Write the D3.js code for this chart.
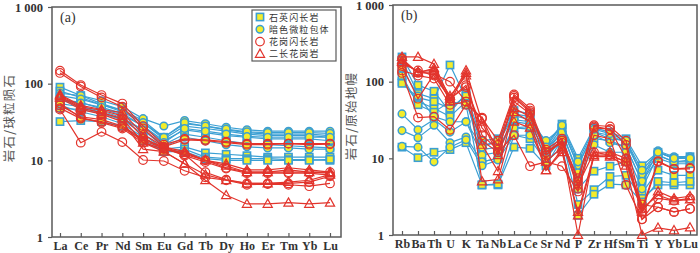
<!DOCTYPE html>
<html>
<head>
<meta charset="utf-8">
<script src="https://cdn.jsdelivr.net/npm/d3@7"></script>
<style>
  html, body { margin: 0; padding: 0; background: #fff; }
  svg { display: block; }
</style>
</head>
<body>
<svg id="chart" width="700" height="253"></svg>
<script>
// ---------- data ----------
const reeElements = ["La","Ce","Pr","Nd","Sm","Eu","Gd","Tb","Dy","Ho","Er","Tm","Yb","Lu"];
const spiderElements = ["Rb","Ba","Th","U","K","Ta","Nb","La","Ce","Sr","Nd","P","Zr","Hf","Sm","Ti","Y","Yb","Lu"];
const yTickValues = [1, 10, 100, 1000];
const yTickLabels = ["1", "10", "100", "1 000"];
const legendLabels = ["石英闪长岩", "暗色微粒包体", "花岗闪长岩", "二长花岗岩"];
const panelLabels = ["(a)", "(b)"];
const yTitles = ["岩石/球粒陨石", "岩石/原始地幔"];

// Chondrite-normalised REE
const qdREE = [
  [90, 70, 55, 45, 33, 20, 30, 28, 25, 23, 22, 22, 22, 21],
  [80, 66, 53, 43, 31, 19, 28, 26, 24, 22, 21, 21, 21, 20],
  [62, 57, 47, 39, 28, 18, 25, 23, 21, 20, 19, 19, 19, 18],
  [48, 46, 41, 34, 25, 16, 22, 20, 18, 16.5, 16, 15.5, 15, 14.5],
  [62, 50, 42, 34, 22, 14, 15, 12.5, 12, 11.5, 11, 11, 11, 11],
  [52, 43, 37, 30, 20, 13, 14, 11, 10.5, 10.5, 10.5, 10.2, 10.2, 10],
  [32, 33, 32, 28, 18, 13, 13, 10.5, 10, 10, 10, 10, 10, 10.3]
];
const meREE = [
  [75, 70, 60, 50, 35, 28, 33, 30, 27, 25, 24, 24, 24, 24],
  [70, 63, 53, 45, 31, 20, 31, 28, 25.5, 23.5, 23, 23, 23, 22.5],
  [60, 56, 49, 41, 28, 17, 26, 24, 22, 20.5, 20, 20, 20, 20],
  [55, 50, 44, 36, 25, 15, 20, 18, 16, 15, 14.5, 14.5, 14, 14]
];
const gdREE = [
  [148, 96, 71, 55, 28, 16, 19, 18.5, 17.5, 16.5, 16.5, 16.5, 16.5, 16.5],
  [138, 92, 66, 50, 26, 15, 18.5, 18, 17, 16, 16, 16.5, 16, 16.2],
  [52, 37, 34, 28, 19, 15, 12, 10, 8, 7, 7, 7, 7, 7],
  [48, 35, 32, 27, 18, 14.5, 11.5, 9.5, 7.8, 6.8, 6.8, 6.8, 6.8, 6.4],
  [46, 17, 23.5, 17.3, 10.1, 9.8, 7.3, 6, 5.5, 4.8, 4.9, 4.8, 4.6, 5.0],
  [55, 36, 31, 26, 17, 14, 12, 7, 5.6, 5, 5, 5, 5.2, 6.2]
];
const tmgREE = [
  [70, 50, 45, 38, 20, 14, 12.5, 10, 9, 7.5, 7.5, 8, 7.5, 7],
  [68, 48, 42, 35, 17, 13, 9, 6.5, 5.5, 5, 5, 5.2, 5.5, 6.5],
  [65, 46, 40, 32, 14, 13, 9, 5.5, 3.5, 2.7, 2.7, 2.8, 2.7, 2.8],
  [72, 52, 46, 42, 22, 15, 13, 10, 8.5, 7, 7, 7.5, 7, 6.8]
];

// Primitive-mantle-normalised trace elements
const qdSpider = [
  [210, 90, 75, 40, 70, 17, 18, 42, 38, 15, 28, 10, 25, 22, 18, 8, 12, 10, 10.5],
  [190, 70, 60, 165, 60, 15, 16, 36, 32, 13, 25, 8, 22, 20, 16, 6, 11, 9, 9],
  [100, 55, 45, 35, 55, 13, 14, 30, 28, 12, 22, 6, 18, 17, 14, 5, 10, 8.5, 8.5],
  [95, 62, 55, 45, 65, 9, 10, 25, 24, 11, 20, 4, 6.8, 7.9, 9, 3.5, 7, 6, 6],
  [14, 10.2, 12, 13, 16, 4.5, 4.5, 14, 13.5, 8, 18, 2.5, 3.9, 5.8, 6, 3, 4.5, 4.5, 4.5],
  [120, 50, 40, 55, 50, 4.5, 4.6, 20, 18, 9, 14, 1.8, 3.4, 4.6, 4.5, 2.7, 5, 4.8, 5]
];
const meSpider = [
  [38, 23.6, 32, 22, 30, 11, 12, 32, 30, 17, 25, 8, 22, 18, 17, 6, 12.5, 10.5, 10.5],
  [23, 18.6, 27, 16, 19, 9, 10, 25, 26, 13, 22, 6.5, 20, 16, 14, 5, 12, 10, 10],
  [14.3, 14, 9, 14, 17.5, 8, 9.5, 20, 20, 10, 18, 5, 15, 12, 12, 4, 11, 9, 9.5],
  [150, 65, 35, 30, 30, 14, 17, 38, 35, 14, 27, 9, 24, 21, 17, 7, 12, 10, 10]
];
const gdSpider = [
  [160, 60, 125, 100, 55, 33, 17, 68, 45, 13, 18, 5, 27, 26, 17, 2.2, 9.2, 7.3, 7.5],
  [200, 130, 130, 60, 85, 25, 15, 65, 42, 11, 17, 4, 25, 24, 15, 1.6, 3, 2.8, 3],
  [130, 34, 35, 23.6, 50, 34, 12, 20, 7.9, 9, 7.9, 3.7, 20, 18, 4.5, 1.6, 2.3, 2.0, 2.2],
  [140, 120, 110, 50, 55, 17, 12, 62, 40, 12, 17, 5.5, 26, 24, 10, 2, 9, 7.2, 7.3],
  [170, 140, 120, 60, 90, 20, 13, 55, 38, 12, 16, 4.5, 12, 11, 9, 2.5, 2.3, 2.0, 2.2]
];
const tmgSpider = [
  [210, 210, 170, 60, 140, 30, 11, 40, 30, 7, 13, 1.8, 10.5, 10.5, 8, 1.0, 1.24, 1.15, 1.25],
  [190, 130, 150, 55, 130, 5.0, 5.3, 30, 25, 7, 12, 2, 11, 11, 9, 2, 3.7, 3.0, 3.2],
  [180, 135, 140, 65, 120, 15, 6.8, 45, 35, 9, 14, 1.0, 12, 12, 10, 2.2, 3.3, 2.8, 2.9]
];

// ---------- style ----------
const BLUE = "#3b9fd3";
const YELLOW = "#f3ec2b";
const RED = "#e2342c";
const AXIS = "#5a5a5a";
const TEXT = "#333";
const numFont = "'Liberation Serif', 'Times New Roman', serif";
const cjkFont = "'Noto Sans CJK SC', sans-serif";

const svg = d3.select("#chart");

function symbol(sel, kind) {
  if (kind === "square") {
    sel.append("rect").attr("x", -3.6).attr("y", -3.6).attr("width", 7.2).attr("height", 7.2)
      .attr("fill", YELLOW).attr("stroke", BLUE).attr("stroke-width", 1.6);
  } else if (kind === "dot") {
    sel.append("circle").attr("r", 3.8).attr("fill", YELLOW).attr("stroke", BLUE).attr("stroke-width", 1.5);
  } else if (kind === "ring") {
    sel.append("circle").attr("r", 4.3).attr("fill", "none").attr("stroke", RED).attr("stroke-width", 1.2);
  } else {
    sel.append("path").attr("d", "M0,-4.8L4.6,3.4L-4.6,3.4Z")
      .attr("fill", "none").attr("stroke", RED).attr("stroke-width", 1.2);
  }
}

function drawPanel(cfg) {
  const g = svg.append("g");
  const x = d3.scalePoint().domain(cfg.elements).range([cfg.x0, cfg.x1]);
  const y = d3.scaleLog().domain([1, 1000]).range([cfg.bottom, cfg.top]);

  // frame
  g.append("rect").attr("x", cfg.left).attr("y", cfg.top).attr("width", cfg.right - cfg.left)
    .attr("height", cfg.bottom - cfg.top).attr("fill", "none").attr("stroke", AXIS).attr("stroke-width", 1.5);

  // y axis
  const yAxis = d3.axisLeft(y).tickValues(yTickValues).tickSize(4)
    .tickFormat((d, i) => yTickLabels[i]);
  const ya = g.append("g").attr("transform", `translate(${cfg.left},0)`).call(yAxis);
  ya.select(".domain").remove();
  ya.selectAll("line").attr("stroke", AXIS).attr("stroke-width", 1.2);
  ya.selectAll("text").attr("font-family", numFont).attr("font-size", 12.5).attr("fill", TEXT)
    .attr("font-weight", "bold").attr("dx", -2);

  // x axis (ticks inward)
  const xAxis = d3.axisBottom(x).tickSize(-4);
  const xa = g.append("g").attr("transform", `translate(0,${cfg.bottom})`).call(xAxis);
  xa.select(".domain").remove();
  xa.selectAll("line").attr("stroke", AXIS).attr("stroke-width", 1.2);
  xa.selectAll("text").attr("font-family", numFont).attr("font-size", 12).attr("fill", TEXT)
    .attr("font-weight", "bold").attr("y", 4.5).attr("dy", "0.71em");

  // y title
  g.append("text").attr("transform", `translate(${cfg.titleX},${(cfg.top + cfg.bottom) / 2 - 4}) rotate(-90)`)
    .attr("text-anchor", "middle").attr("font-family", cjkFont).attr("font-size", 12.5)
    .attr("fill", "#555").attr("letter-spacing", 1.2).text(cfg.title);

  // panel label
  g.append("text").attr("x", cfg.left + 8).attr("y", cfg.top + 15)
    .attr("font-family", numFont).attr("font-size", 14).attr("fill", TEXT).text(cfg.label);

  const line = d3.line().x((d, i) => x(cfg.elements[i])).y(d => y(d));
  const groups = [
    { data: cfg.qd, color: BLUE, kind: "square" },
    { data: cfg.me, color: BLUE, kind: "dot" },
    { data: cfg.gd, color: RED, kind: "ring" },
    { data: cfg.tmg, color: RED, kind: "tri" }
  ];
  groups.forEach(grp => {
    grp.data.forEach(series => {
      g.append("path").datum(series).attr("d", line).attr("fill", "none")
        .attr("stroke", grp.color).attr("stroke-width", 1.2);
      g.selectAll(null).data(series).enter().append("g")
        .attr("transform", (d, i) => `translate(${x(cfg.elements[i])},${y(d)})`)
        .each(function () { symbol(d3.select(this), grp.kind); });
    });
  });
  return g;
}

drawPanel({
  elements: reeElements, left: 52, right: 341, top: 7, bottom: 237, x0: 60, x1: 330,
  qd: qdREE, me: meREE, gd: gdREE, tmg: tmgREE, title: yTitles[0], titleX: 14, label: panelLabels[0]
});
drawPanel({
  elements: spiderElements, left: 393, right: 697, top: 5, bottom: 235, x0: 402, x1: 690,
  qd: qdSpider, me: meSpider, gd: gdSpider, tmg: tmgSpider, title: yTitles[1], titleX: 356, label: panelLabels[1]
});

// legend (panel a)
const lg = svg.append("g").attr("transform", "translate(252,10)");
lg.append("rect").attr("width", 84).attr("height", 51).attr("fill", "#fff")
  .attr("stroke", AXIS).attr("stroke-width", 1.2);
const kinds = ["square", "dot", "ring", "tri"];
legendLabels.forEach((t, i) => {
  const row = lg.append("g").attr("transform", `translate(8,${7 + i * 12.3})`);
  symbol(row, kinds[i]);
  row.append("text").attr("x", 9).attr("y", 3.5).attr("font-family", cjkFont).attr("font-size", 9)
    .attr("letter-spacing", 1.1).attr("fill", TEXT).text(t);
});
</script>
</body>
</html>
